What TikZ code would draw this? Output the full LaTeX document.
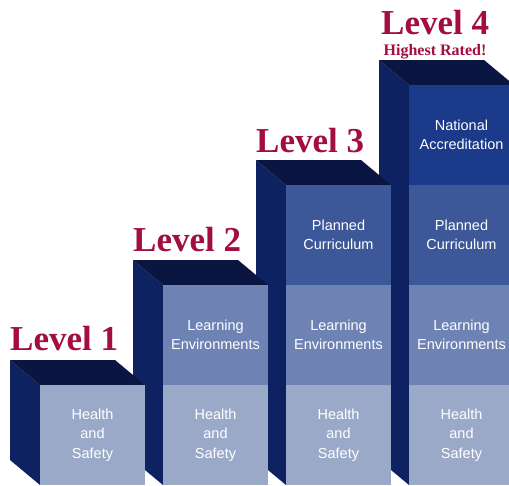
\documentclass[tikz,border=0pt]{standalone}
\usepackage{fontspec}
\setmainfont{Liberation Serif}
\setsansfont{Liberation Sans}
\definecolor{levelred}{HTML}{A30D3F}
\definecolor{sidecol}{HTML}{0E2160}
\definecolor{topcol}{HTML}{0A1541}
\definecolor{hscol}{HTML}{9BA9C9}
\definecolor{lecol}{HTML}{6E83B4}
\definecolor{pccol}{HTML}{3D5898}
\definecolor{nacol}{HTML}{1B3A89}

\begin{document}
\begin{tikzpicture}[x=1pt,y=-1pt,
    lvl/.style={text=levelred,font=\bfseries\fontsize{35}{35}\selectfont,inner sep=0pt,anchor=base west},
    band/.style={text=white,font=\sffamily\fontsize{14.5}{19.5}\selectfont,align=center,inner sep=0pt}]
    \useasboundingbox (0,0) rectangle (509,485);
    \clip (0,0) rectangle (509,485);
    % columns, drawn back to front
    \foreach \i in {3,2,1,0} {
        \pgfmathsetmacro{\bx}{10+123*\i}
        \pgfmathsetmacro{\ft}{385-100*\i}
        \fill[sidecol] (\bx,{\ft-25}) -- ({\bx+30},\ft) -- ({\bx+30},485) -- (\bx,460) -- cycle;
        \fill[topcol] (\bx,{\ft-25}) -- ({\bx+105},{\ft-25}) -- ({\bx+135},\ft) -- ({\bx+30},\ft) -- cycle;
        \foreach \j/\c/\t in {0/hscol/{Health\\and\\Safety},1/lecol/{Learning\\Environments},
                              2/pccol/{Planned\\Curriculum},3/nacol/{National\\Accreditation}} {
            \ifnum\j>\i\else
                \fill[\c] ({\bx+30},{385-100*\j}) rectangle ({\bx+135},{485-100*\j});
                \node[band] (b\i\j) at ({\bx+82.5},{435-100*\j}) {\t};
            \fi
        }
    }
    \node[lvl] (lvl1) at (10,350) {Level 1};
    \node[lvl] (lvl2) at (133,251) {Level 2};
    \node[lvl] (lvl3) at (256,152) {Level 3};
    \node[lvl] (lvl4) at (381,34) {Level 4};
    \node[text=levelred,font=\bfseries\fontsize{16}{16}\selectfont,inner sep=0pt,anchor=base]
        (hr) at (435,55) {Highest Rated!};
\end{tikzpicture}
\end{document}
